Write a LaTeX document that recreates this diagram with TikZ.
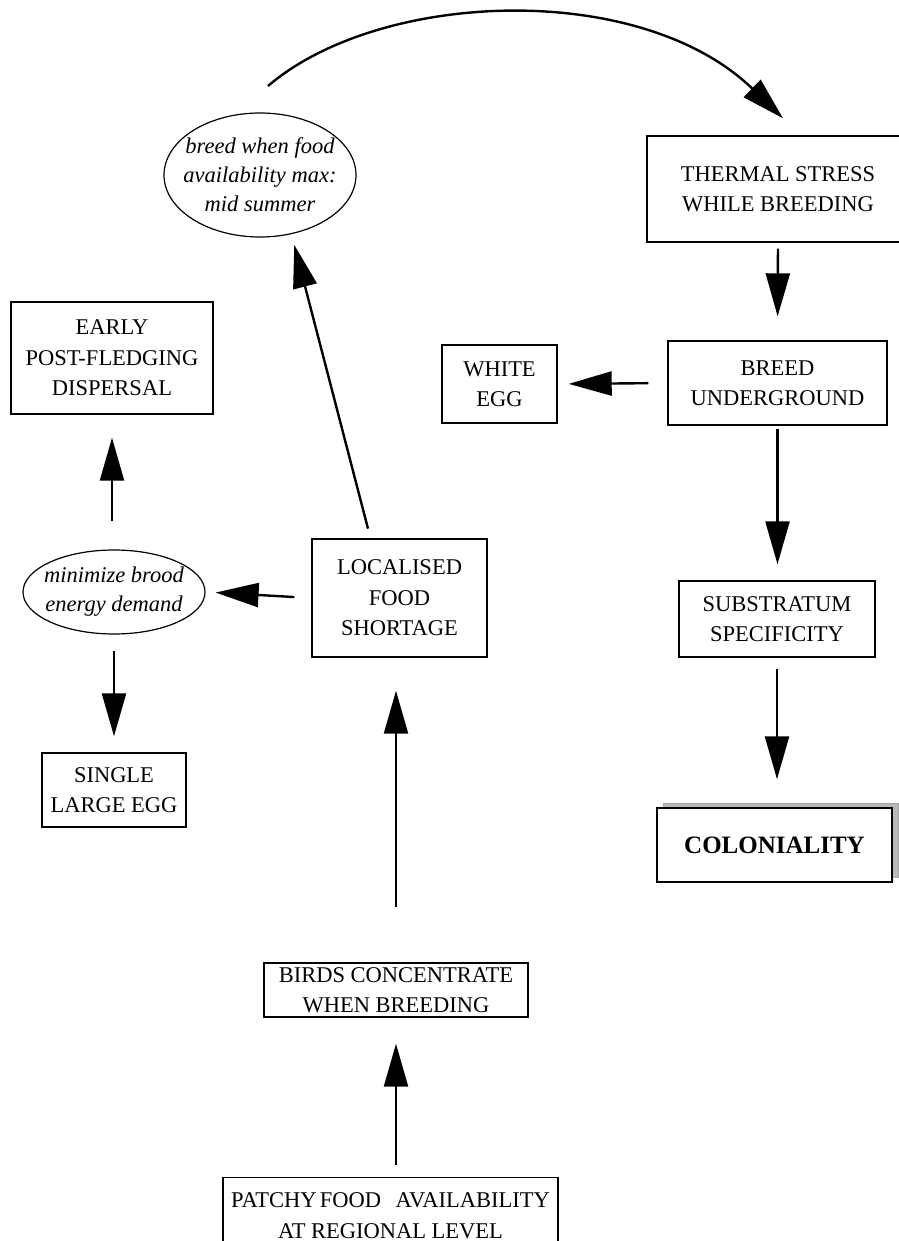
\documentclass[tikz,border=0pt]{standalone}
\usepackage{fontspec}
\setmainfont{Liberation Serif}
\usetikzlibrary{shapes.geometric,arrows.meta,calc}
\begin{document}
\begin{tikzpicture}[x=1pt,y=-1pt,
  box/.style={draw,line width=1.4pt,align=center,inner sep=0pt,
    font=\fontsize{22.5}{30.5}\selectfont},
  ell/.style={draw,ellipse,line width=1.2pt,align=center,inner sep=0pt,
    font=\fontsize{22.5}{29}\selectfont\itshape},
  arr/.style={line width=2.4pt,-{Triangle[length=43pt,width=24pt]}}]
\useasboundingbox (0,0) rectangle (898,1241);
% nodes
\node[box,minimum width=262pt,minimum height=106pt] (therm) at (778,189) {THERMAL STRESS\\WHILE BREEDING};
\node[box,minimum width=219pt,minimum height=84pt] (breed) at (777.5,383) {BREED\\UNDERGROUND};
\node[box,minimum width=115pt,minimum height=78pt] (white) at (499.5,384) {WHITE\\EGG};
\node[box,minimum width=196pt,minimum height=76pt] (subst) at (777,619) {SUBSTRATUM\\SPECIFICITY};
\fill[gray!55,draw=gray!70] (663,803) rectangle (898,877);
\node[box,fill=white,minimum width=235pt,minimum height=74pt,font=\fontsize{25}{30}\selectfont\bfseries] (colon) at (774.5,845) {COLONIALITY};
\node[box,minimum width=202pt,minimum height=112pt] (early) at (112,358) {EARLY\\POST-FLEDGING\\DISPERSAL};
\node[ell,minimum width=182pt,minimum height=84pt,inner xsep=-12pt,inner ysep=-9pt] (minim) at (114,592) {minimize brood\\energy demand};
\node[ell,minimum width=192pt,minimum height=124pt,inner xsep=-12pt,inner ysep=-14pt] (bfood) at (260,175) {breed when food\\availability max:\\mid summer};
\node[box,minimum width=175pt,minimum height=118pt] (local) at (399.5,598) {LOCALISED\\FOOD\\SHORTAGE};
\node[box,minimum width=144pt,minimum height=74pt] (single) at (114,790) {SINGLE\\LARGE EGG};
\node[box,minimum width=264pt,minimum height=54pt] (birds) at (396,990) {BIRDS CONCENTRATE\\WHEN BREEDING};
\node[box,minimum width=335pt,minimum height=76pt,anchor=north] (patchy) at (390.5,1177) {PATCHY\hspace{-0.1em} FOOD\hspace{0.4em} AVAILABILITY\\AT REGIONAL LEVEL};
\coordinate (arcstart) at (268,86);
% connectors
\draw[arr] (arcstart) .. controls (380,-10) and (640,-20) .. ($(therm.north)+(5,-17)$);
\draw[arr,shorten <=6pt,shorten >=24pt] (therm.south) -- (breed.north);
\draw[arr,shorten <=19pt,shorten >=11pt] (breed.west) -- (white.east);
\draw[arr,shorten <=3pt,shorten >=16pt] (breed.south) -- (breed.south |- subst.north);
\draw[arr,shorten <=11pt,shorten >=28pt] (subst.south) -- (subst.south |- colon.north);
\draw[arr,shorten <=17pt,shorten >=10pt] (local.west) -- (minim.east);
\draw[arr,shorten <=28pt,shorten >=23pt] (minim.north -| early.south) -- (early.south);
\draw[arr,shorten <=16pt,shorten >=16pt] (minim.south) -- (single.north);
\draw[arr,shorten <=10pt,shorten >=11pt] ($(local.north)+(-29,0)$) -- (bfood.-62);
\draw[arr,shorten <=55pt,shorten >=33pt] (birds.north) -- (birds.north |- local.south);
\draw[arr,shorten <=12pt,shorten >=26pt] (birds.south |- patchy.north) -- (birds.south);
\end{tikzpicture}
\end{document}
